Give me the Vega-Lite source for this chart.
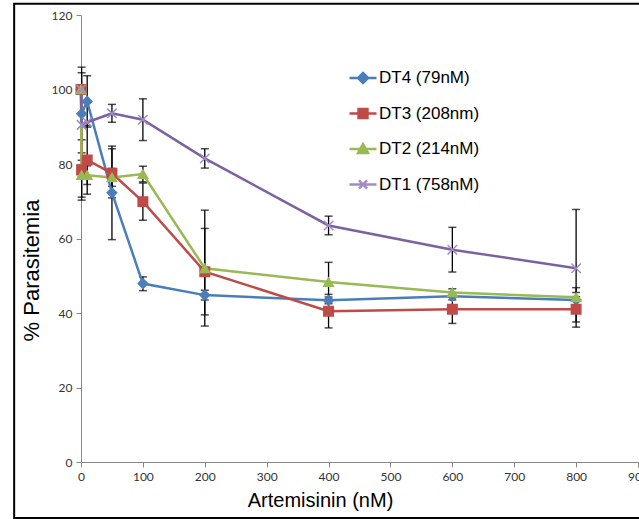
{
  "$schema": "https://vega.github.io/schema/vega-lite/v6.json",
  "width": 557,
  "height": 447,
  "autosize": {"type": "none"},
  "padding": {"left": 81, "top": 15, "right": 1, "bottom": 57},
  "background": "white",
  "config": {"view": {"stroke": null}, "font": "Liberation Sans"},
  "data": {"values": [
    {"s": "DT4 (79nM)", "x": 0, "y": 100, "lo": null, "hi": null},
    {"s": "DT4 (79nM)", "x": 1, "y": 93.5, "lo": 81, "hi": 106},
    {"s": "DT4 (79nM)", "x": 10, "y": 96.8, "lo": 89.9, "hi": 103.7},
    {"s": "DT4 (79nM)", "x": 50, "y": 72.3, "lo": 59.7, "hi": 84.8},
    {"s": "DT4 (79nM)", "x": 100, "y": 47.9, "lo": 46, "hi": 49.7},
    {"s": "DT4 (79nM)", "x": 200, "y": 44.8, "lo": 43.5, "hi": 46.1},
    {"s": "DT4 (79nM)", "x": 400, "y": 43.4, "lo": 42.5, "hi": 44.3},
    {"s": "DT4 (79nM)", "x": 600, "y": 44.5, "lo": 43.5, "hi": 45.5},
    {"s": "DT4 (79nM)", "x": 800, "y": 43.5, "lo": 41.5, "hi": 45.5},
    {"s": "DT3 (208nm)", "x": 0, "y": 100, "lo": null, "hi": null},
    {"s": "DT3 (208nm)", "x": 1, "y": 78.4, "lo": 70.3, "hi": 86.5},
    {"s": "DT3 (208nm)", "x": 10, "y": 81.1, "lo": 71.9, "hi": 90.3},
    {"s": "DT3 (208nm)", "x": 50, "y": 77.5, "lo": 70.9, "hi": 84.1},
    {"s": "DT3 (208nm)", "x": 100, "y": 69.9, "lo": 64.9, "hi": 74.9},
    {"s": "DT3 (208nm)", "x": 200, "y": 51.1, "lo": 39.5, "hi": 62.7},
    {"s": "DT3 (208nm)", "x": 400, "y": 40.5, "lo": 36, "hi": 45},
    {"s": "DT3 (208nm)", "x": 600, "y": 41, "lo": 37.2, "hi": 44.8},
    {"s": "DT3 (208nm)", "x": 800, "y": 41, "lo": 37.6, "hi": 44.4},
    {"s": "DT2 (214nM)", "x": 0, "y": 100, "lo": null, "hi": null},
    {"s": "DT2 (214nM)", "x": 1, "y": 77, "lo": 71.1, "hi": 83},
    {"s": "DT2 (214nM)", "x": 10, "y": 77, "lo": 74.5, "hi": 79.5},
    {"s": "DT2 (214nM)", "x": 50, "y": 76.4, "lo": 74, "hi": 78.8},
    {"s": "DT2 (214nM)", "x": 100, "y": 77.3, "lo": 75.2, "hi": 79.4},
    {"s": "DT2 (214nM)", "x": 200, "y": 52, "lo": 36.5, "hi": 67.6},
    {"s": "DT2 (214nM)", "x": 400, "y": 48.3, "lo": 43, "hi": 53.6},
    {"s": "DT2 (214nM)", "x": 600, "y": 45.5, "lo": 44.5, "hi": 46.5},
    {"s": "DT2 (214nM)", "x": 800, "y": 44.2, "lo": 41.6, "hi": 46.8},
    {"s": "DT1 (758nM)", "x": 0, "y": 100, "lo": null, "hi": null},
    {"s": "DT1 (758nM)", "x": 1, "y": 90.5, "lo": 76.5, "hi": 104.5},
    {"s": "DT1 (758nM)", "x": 10, "y": 91.2, "lo": null, "hi": null},
    {"s": "DT1 (758nM)", "x": 50, "y": 93.6, "lo": 91.2, "hi": 96},
    {"s": "DT1 (758nM)", "x": 100, "y": 91.9, "lo": 86.3, "hi": 97.5},
    {"s": "DT1 (758nM)", "x": 200, "y": 81.5, "lo": 78.9, "hi": 84.1},
    {"s": "DT1 (758nM)", "x": 400, "y": 63.5, "lo": 61, "hi": 66},
    {"s": "DT1 (758nM)", "x": 600, "y": 57, "lo": 51, "hi": 63},
    {"s": "DT1 (758nM)", "x": 800, "y": 52, "lo": 36.2, "hi": 67.8}
  ]},
  "layer": [
    {
      "data": {"values": [{}]},
      "mark": {"type": "rect", "filled": false, "stroke": "black", "strokeWidth": 2},
      "encoding": {
        "x": {"datum": -108, "type": "quantitative", "scale": {"domain": [0, 900]}},
        "x2": {"datum": 1010},
        "y": {"datum": 123, "type": "quantitative", "scale": {"domain": [0, 120]}},
        "y2": {"datum": -15}
      }
    },
    {
      "transform": [{"filter": "datum.lo != null"}],
      "mark": {"type": "rule", "color": "black", "strokeWidth": 1.3},
      "encoding": {
        "x": {"field": "x", "type": "quantitative", "scale": {"domain": [0, 900]}},
        "y": {"field": "lo", "type": "quantitative", "scale": {"domain": [0, 120]}},
        "y2": {"field": "hi"}
      }
    },
    {
      "transform": [{"filter": "datum.lo != null"}],
      "mark": {"type": "tick", "orient": "horizontal", "color": "black", "size": 8, "thickness": 1.5},
      "encoding": {
        "x": {"field": "x", "type": "quantitative", "scale": {"domain": [0, 900]}},
        "y": {"field": "lo", "type": "quantitative", "scale": {"domain": [0, 120]}}
      }
    },
    {
      "transform": [{"filter": "datum.lo != null"}],
      "mark": {"type": "tick", "orient": "horizontal", "color": "black", "size": 8, "thickness": 1.5},
      "encoding": {
        "x": {"field": "x", "type": "quantitative", "scale": {"domain": [0, 900]}},
        "y": {"field": "hi", "type": "quantitative", "scale": {"domain": [0, 120]}}
      }
    },
    {
      "mark": {"type": "line", "strokeWidth": 2.5},
      "encoding": {
        "x": {
          "field": "x", "type": "quantitative", "scale": {"domain": [0, 900]},
          "axis": {
            "values": [0, 100, 200, 300, 400, 500, 600, 700, 800, 900],
            "grid": false, "domainColor": "#868686", "tickColor": "#868686", "tickSize": 5,
            "labelFont": "Lato", "labelFontSize": 12, "labelColor": "#333333", "labelPadding": 4,
            "labelFlush": false, "labelOverlap": false,
            "title": "Artemisinin (nM)", "titleFont": "Liberation Sans", "titleFontSize": 20,
            "titleFontWeight": "normal", "titleColor": "black",
            "titleX": 239, "titleY": 38, "titleAlign": "center", "titleBaseline": "middle"
          }
        },
        "y": {
          "field": "y", "type": "quantitative", "scale": {"domain": [0, 120]},
          "axis": {
            "values": [0, 20, 40, 60, 80, 100, 120],
            "grid": false, "domainColor": "#868686", "tickColor": "#868686", "tickSize": 5,
            "labelFont": "Lato", "labelFontSize": 12, "labelColor": "#333333", "labelPadding": 4,
            "labelFlush": false,
            "title": "% Parasitemia", "titleFont": "Liberation Sans", "titleFontSize": 22,
            "titleFontWeight": "normal", "titleColor": "black", "titleAngle": -90,
            "titleX": -50, "titleY": 255, "titleAlign": "center", "titleBaseline": "middle"
          }
        },
        "color": {
          "field": "s", "type": "nominal",
          "scale": {"domain": ["DT4 (79nM)", "DT3 (208nm)", "DT2 (214nM)", "DT1 (758nM)"], "range": ["#4A7EBB", "#BE4B48", "#98B954", "#7D60A0"]},
          "legend": null
        }
      }
    },
    {
      "mark": {"type": "point", "filled": true, "size": 90, "strokeWidth": 1.5, "opacity": 1},
      "encoding": {
        "x": {"field": "x", "type": "quantitative", "scale": {"domain": [0, 900]}},
        "y": {"field": "y", "type": "quantitative", "scale": {"domain": [0, 120]}},
        "fill": {
          "field": "s", "type": "nominal",
          "scale": {"domain": ["DT4 (79nM)", "DT3 (208nm)", "DT2 (214nM)", "DT1 (758nM)"], "range": ["#4A7EBB", "#BE4B48", "#98B954", "#7D60A0"]},
          "legend": null
        },
        "stroke": {
          "field": "s", "type": "nominal",
          "scale": {"domain": ["DT4 (79nM)", "DT3 (208nm)", "DT2 (214nM)", "DT1 (758nM)"], "range": ["#4A7EBB", "#BE4B48", "#98B954", "#A08CC8"]},
          "legend": null
        },
        "shape": {
          "field": "s", "type": "nominal",
          "scale": {"domain": ["DT4 (79nM)", "DT3 (208nm)", "DT2 (214nM)", "DT1 (758nM)"], "range": ["diamond", "square", "triangle-up", "M-1,-1L1,1M-1,1L1,-1"]},
          "legend": null
        }
      }
    },
    {
      "mark": {"type": "point", "filled": true, "opacity": 0, "size": 729, "strokeWidth": 2.5},
      "encoding": {
        "x": {"field": "x", "type": "quantitative", "scale": {"domain": [0, 900]}},
        "y": {"field": "y", "type": "quantitative", "scale": {"domain": [0, 120]}},
        "fill": {
          "field": "s", "type": "nominal",
          "scale": {"domain": ["DT4 (79nM)", "DT3 (208nm)", "DT2 (214nM)", "DT1 (758nM)"], "range": ["#4A7EBB", "#BE4B48", "#98B954", "#7D60A0"]},
          "legend": {"orient": "none", "legendX": 267, "legendY": 48, "title": null, "labelFont": "Liberation Sans", "labelFontSize": 17, "labelColor": "black", "symbolSize": 729, "symbolStrokeWidth": 2.5, "symbolOpacity": 1, "rowPadding": 10.5, "labelOffset": 1, "padding": 0}
        },
        "stroke": {
          "field": "s", "type": "nominal",
          "scale": {"domain": ["DT4 (79nM)", "DT3 (208nm)", "DT2 (214nM)", "DT1 (758nM)"], "range": ["#4A7EBB", "#BE4B48", "#98B954", "#A08CC8"]},
          "legend": {"orient": "none", "legendX": 267, "legendY": 48, "title": null, "labelFont": "Liberation Sans", "labelFontSize": 17, "labelColor": "black", "symbolSize": 729, "symbolStrokeWidth": 2.5, "symbolOpacity": 1, "rowPadding": 10.5, "labelOffset": 1, "padding": 0}
        },
        "shape": {
          "field": "s", "type": "nominal",
          "scale": {"domain": ["DT4 (79nM)", "DT3 (208nm)", "DT2 (214nM)", "DT1 (758nM)"], "range": [
            "M-1,0H1M0,-0.37L0.37,0L0,0.37L-0.37,0Z",
            "M-1,0H1M-0.33,-0.33H0.33V0.33H-0.33Z",
            "M-1,0H1M0,-0.37L0.37,0.3H-0.37Z",
            "M-1,0H1M-0.3,-0.3L0.3,0.3M-0.3,0.3L0.3,-0.3"
          ]},
          "legend": {"orient": "none", "legendX": 267, "legendY": 48, "title": null, "labelFont": "Liberation Sans", "labelFontSize": 17, "labelColor": "black", "symbolSize": 729, "symbolStrokeWidth": 2.5, "symbolOpacity": 1, "rowPadding": 10.5, "labelOffset": 1, "padding": 0}
        }
      }
    }
  ],
  "resolve": {
    "scale": {"shape": "independent"},
    "legend": {"shape": "independent", "fill": "independent", "stroke": "independent", "color": "independent"}
  }
}
